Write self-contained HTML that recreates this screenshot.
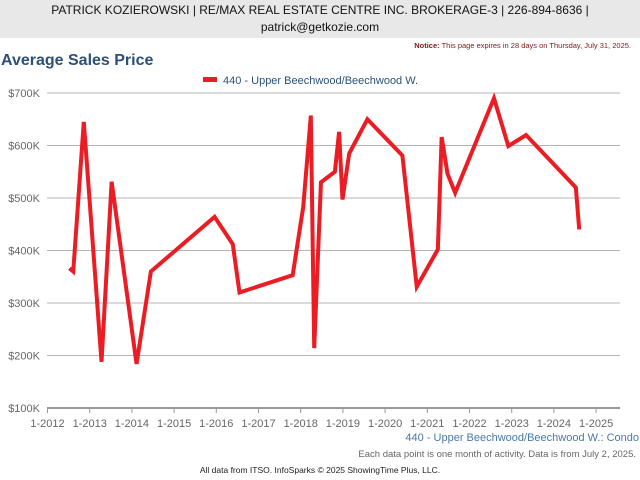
<!DOCTYPE html>
<html><head><meta charset="utf-8"><style>
body{margin:0;width:640px;height:480px;background:#fff;font-family:"Liberation Sans",sans-serif;overflow:hidden;position:relative}
.hdr{position:absolute;left:0;top:0;width:640px;height:36px;background:#e8e8e8;text-align:center;font-size:12px;line-height:17px;color:#111;padding-top:2px}
</style></head><body>
<div class="hdr">PATRICK KOZIEROWSKI | RE/MAX REAL ESTATE CENTRE INC. BROKERAGE-3 | 226-894-8636 |<br>patrick@getkozie.com</div>
<div style="position:absolute;right:9px;top:41px;font-size:7.5px;color:#7a1a1a"><b>Notice:</b> This page expires in 28 days on Thursday, July 31, 2025.</div>
<div style="position:absolute;left:1px;top:52px;font-size:16px;font-weight:bold;color:#2c5077">Average Sales Price</div>
<svg id="chart" width="640" height="480" style="position:absolute;left:0;top:0"></svg>
<div style="position:absolute;left:0;width:640px;top:465px;text-align:center;font-size:8.5px;color:#222">All data from ITSO. InfoSparks © 2025 ShowingTime Plus, LLC.</div>
<script>
const dates=[2012.52,2012.61,2012.86,2013.28,2013.52,2014.11,2014.45,2015.96,2016.39,2016.55,2017.81,2018.06,2018.24,2018.32,2018.48,2018.81,2018.91,2018.99,2019.15,2019.58,2020.41,2020.75,2021.25,2021.34,2021.48,2021.66,2022.58,2022.92,2023.34,2024.52,2024.60];
const values=[366,360,645,188,531,184,360,464,412,320,353,483,657,214,530,550,626,497,585,650,581,331,402,616,546,510,690,599,620,520,440];
const yTicks=[100,200,300,400,500,600,700];
const xTicks=[2012,2013,2014,2015,2016,2017,2018,2019,2020,2021,2022,2023,2024,2025];
const NS="http://www.w3.org/2000/svg",svg=document.getElementById('chart');
const L=47,R=620;
const x=d=>47.5+(d-2012)*42.2;
const y=v=>408-(v-100)*0.525;
function mk(t,a,txt){const e=document.createElementNS(NS,t);for(const k in a)e.setAttribute(k,a[k]);if(txt!=null)e.textContent=txt;svg.appendChild(e);return e;}
yTicks.forEach(v=>{
 const g=mk('line',{x1:L,x2:R,y1:y(v),y2:y(v),stroke:v===100?'#999':'#b4b4b4','stroke-width':v===100?2:1});
 
 
 const t=mk('text',{x:40,y:y(v)+4,'text-anchor':'end','font-size':11,fill:'#666','font-family':'Liberation Sans'},'$'+v+'K');
 
 
});
xTicks.forEach(d=>{
 const k=mk('line',{x1:x(d),x2:x(d),y1:408,y2:413,stroke:'#999','stroke-width':1});
 
 
 const t=mk('text',{x:x(d),y:427,'text-anchor':'middle','font-size':11,fill:'#666','font-family':'Liberation Sans'},'1-'+d);
 
 
});
const p=mk('polyline',{points:dates.map((d,i)=>x(d)+','+y(values[i])).join(' '),fill:'none',stroke:'#ec1c24','stroke-width':4,'stroke-linejoin':'miter','stroke-linecap':'butt'});


const ls=mk('rect',{x:203,y:77,width:14,height:5,fill:'#ec1c24'});


const lt=mk('text',{x:223,y:84,'font-size':11,fill:'#2c5077','font-family':'Liberation Sans'},'440 - Upper Beechwood/Beechwood W.');


const st=mk('text',{x:639,y:441,'text-anchor':'end','font-size':11,fill:'#4a78a8','font-family':'Liberation Sans'},'440 - Upper Beechwood/Beechwood W.: Condo');


const nt=mk('text',{x:636,y:457,'text-anchor':'end','font-size':9.5,fill:'#666','font-family':'Liberation Sans'},'Each data point is one month of activity. Data is from July 2, 2025.');


</script>
</body></html>
